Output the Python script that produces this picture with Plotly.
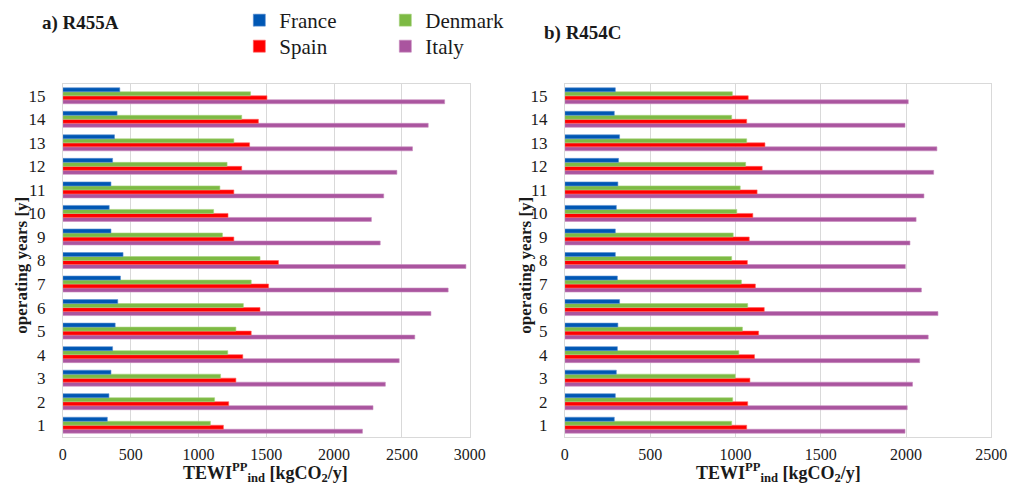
import plotly.graph_objects as go

years = list(range(1, 16))

# a) R455A  (years 1..15)
france_a = [328, 340, 355, 367, 386, 405, 425, 444, 355, 342, 355, 367, 381, 400, 420]
denmark_a = [1088, 1119, 1163, 1216, 1276, 1331, 1389, 1454, 1177, 1112, 1158, 1211, 1261, 1319, 1384]
spain_a = [1184, 1223, 1276, 1327, 1389, 1454, 1517, 1590, 1261, 1218, 1261, 1319, 1377, 1442, 1505]
italy_a = [2209, 2287, 2378, 2480, 2595, 2714, 2841, 2972, 2340, 2275, 2366, 2463, 2578, 2694, 2815]

# b) R454C  (years 1..15)
france_b = [290, 296, 302, 308, 311, 321, 308, 296, 296, 302, 311, 315, 321, 290, 296]
denmark_b = [978, 984, 999, 1020, 1041, 1072, 1035, 978, 987, 1008, 1028, 1060, 1066, 978, 982]
spain_b = [1066, 1072, 1085, 1112, 1136, 1169, 1117, 1070, 1081, 1102, 1127, 1157, 1173, 1066, 1075]
italy_b = [1994, 2007, 2038, 2080, 2130, 2187, 2090, 1996, 2023, 2059, 2105, 2162, 2181, 1994, 2013]

x_ticks_a = [0, 500, 1000, 1500, 2000, 2500, 3000]
x_ticks_b = [0, 500, 1000, 1500, 2000, 2500]

colors = {"France": "#0057B4", "Denmark": "#7DBA44", "Spain": "#FF0000", "Italy": "#AA559F"}
line_colors = {"France": "#5A8FD0", "Denmark": "#A8D37E", "Spain": "#FF6060", "Italy": "#C78BBE"}
legend_of = {"France": "legend", "Denmark": "legend", "Spain": "legend2", "Italy": "legend2"}
rank = {"France": 1, "Denmark": 2, "Spain": 1, "Italy": 2}

serif = "'Liberation Serif', 'Times New Roman', serif"

fig = go.Figure()

series_a = {"Italy": italy_a, "Spain": spain_a, "Denmark": denmark_a, "France": france_a}
series_b = {"Italy": italy_b, "Spain": spain_b, "Denmark": denmark_b, "France": france_b}

for name, vals in series_a.items():
    fig.add_trace(go.Bar(
        x=vals, y=years, orientation="h", name=name,
        marker=dict(color=colors[name], line=dict(color=line_colors[name], width=0.6)),
        xaxis="x", yaxis="y", legend=legend_of[name], legendrank=rank[name],
        legendgroup=name, showlegend=True,
    ))
for name, vals in series_b.items():
    fig.add_trace(go.Bar(
        x=vals, y=years, orientation="h", name=name,
        marker=dict(color=colors[name], line=dict(color=line_colors[name], width=0.6)),
        xaxis="x2", yaxis="y2", legendgroup=name, showlegend=False,
    ))

grid = "#D9D9D9"
ytop = 1 - 84 / 487
ybot = 1 - 437 / 487

common_x = dict(showgrid=True, gridcolor=grid, gridwidth=1, zeroline=False,
                showline=True, linecolor=grid, linewidth=1, mirror=True,
                ticks="", tickfont=dict(family=serif, size=16, color="#1a1a1a"),
                ticklabelstandoff=3)
common_y = dict(showgrid=False, zeroline=False, showline=True, linecolor=grid,
                linewidth=1, mirror=True, ticks="",
                tickfont=dict(family=serif, size=17, color="#1a1a1a"),
                tickmode="array", tickvals=years, ticktext=[str(v) for v in years],
                range=[0.5, 15.5], ticklabelstandoff=13)

legend_common = dict(orientation="h", xanchor="left", yanchor="top",
                     font=dict(family=serif, size=21, color="#1a1a1a"),
                     entrywidth=101, entrywidthmode="pixels", traceorder="normal",
                     itemwidth=30, bgcolor="rgba(0,0,0,0)", borderwidth=0)

fig.update_layout(
    width=1024, height=487,
    margin=dict(l=0, r=0, t=0, b=0),
    paper_bgcolor="white", plot_bgcolor="white",
    barmode="group", bargap=0.32, bargroupgap=0.0,
    xaxis=dict(domain=[60 / 1024, 475 / 1024], anchor="y", range=[0, 3000],
               tickvals=x_ticks_a, **common_x),
    yaxis=dict(domain=[ybot, ytop], anchor="x", **common_y),
    xaxis2=dict(domain=[572 / 1024, 1007 / 1024], anchor="y2", range=[0, 2500],
                tickvals=x_ticks_b, **common_x),
    yaxis2=dict(domain=[ybot, ytop], anchor="x2", **common_y),
    legend=dict(x=240 / 1024, y=1.0, **legend_common),
    legend2=dict(x=240 / 1024, y=1 - 26 / 487, **legend_common),
    font=dict(family=serif, color="#1a1a1a"),
)

ann_font = dict(family=serif, size=19, color="#1a1a1a")
ytitle_font = dict(family=serif, size=17, color="#1a1a1a")
xtitle_font = dict(family=serif, size=18, color="#1a1a1a")
annotations = [
    dict(text="<b>a) R455A</b>", x=37 / 1024, y=1 - 23 / 487, xref="paper", yref="paper",
         xanchor="left", yanchor="middle", showarrow=False, font=ann_font),
    dict(text="<b>b) R454C</b>", x=549 / 1024, y=1 - 33 / 487, xref="paper", yref="paper",
         xanchor="left", yanchor="middle", showarrow=False, font=ann_font),
    dict(text="<b>operating years [y]</b>", x=17 / 1024, y=1 - 265 / 487, xref="paper",
         yref="paper", xanchor="center", yanchor="middle", textangle=-90, showarrow=False,
         font=ytitle_font),
    dict(text="<b>operating years [y]</b>", x=531 / 1024, y=1 - 265 / 487, xref="paper",
         yref="paper", xanchor="center", yanchor="middle", textangle=-90, showarrow=False,
         font=ytitle_font),
    dict(text="<b>TEWI<sup>PP</sup><sub>ind</sub> [kgCO<sub>2</sub>/y]</b>", x=267 / 1024,
         y=1 - 472 / 487, xref="paper", yref="paper", xanchor="center", yanchor="middle",
         showarrow=False, font=xtitle_font),
    dict(text="<b>TEWI<sup>PP</sup><sub>ind</sub> [kgCO<sub>2</sub>/y]</b>", x=790 / 1024,
         y=1 - 472 / 487, xref="paper", yref="paper", xanchor="center", yanchor="middle",
         showarrow=False, font=xtitle_font),
]
fig.update_layout(annotations=annotations)

fig.write_html("out.html")
